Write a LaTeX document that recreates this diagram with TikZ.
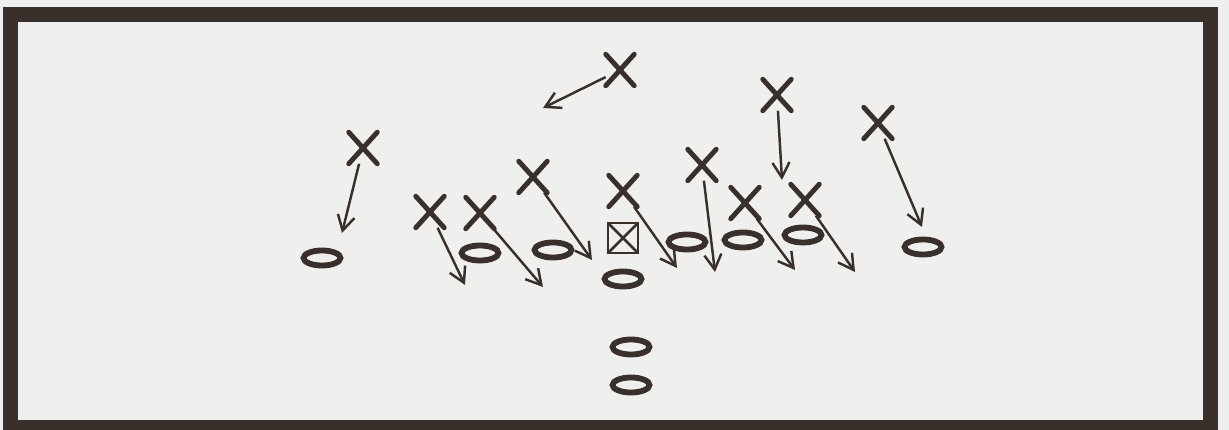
\documentclass[tikz,border=0pt]{standalone}
\usepackage{tikz}
\usetikzlibrary{arrows.meta,positioning,shapes.geometric,shapes.misc}
\definecolor{ink}{HTML}{3A302B}
\definecolor{paper}{HTML}{EFF0EE}
\tikzset{
  defx/.style={cross out, draw=ink, line width=2.8pt, line cap=round, minimum width=0.5cm, minimum height=0.56cm, inner sep=0pt, outer sep=1pt},
  offo/.style={ellipse, draw=ink, line width=3.3pt, minimum width=0.74cm, minimum height=0.3cm, inner sep=0pt},
  snap/.style={draw=ink, line width=1.7pt, minimum size=0.6cm, inner sep=0pt,
    path picture={\draw[ink, line width=1.6pt] (path picture bounding box.north west) -- (path picture bounding box.south east) (path picture bounding box.north east) -- (path picture bounding box.south west);}},
  rush/.style={-{Straight Barb[length=3mm,width=3.4mm]}, line width=1.4pt, draw=ink}
}
\begin{document}
\begin{tikzpicture}
\useasboundingbox (0,0) rectangle (24.58,8.6);
\fill[paper] (0,0) rectangle (24.58,8.6);
\draw[ink, line width=0.3cm] (0.21,0.04) rectangle (24.2,8.31);
\node[defx] (xa) at (12.40,7.20) {};
\node[defx] (xb) at (7.26,5.64) {};
\node[defx] (xc) at (8.60,4.36) {};
\node[defx] (xd) at (9.60,4.34) {};
\node[defx] (xe) at (10.66,5.06) {};
\node[defx] (xf) at (12.46,4.78) {};
\node[defx] (xg) at (14.04,5.30) {};
\node[defx] (xh) at (15.54,6.70) {};
\node[defx] (xi) at (14.90,4.54) {};
\node[defx] (xj) at (16.10,4.60) {};
\node[defx] (xk) at (17.56,6.14) {};
\node[offo] (oa) at (6.44,3.44) {};
\node[offo] (ob) at (9.60,3.54) {};
\node[offo] (oc) at (11.06,3.60) {};
\node[snap] (ctr) at (12.46,3.84) {};
\node[offo] (od) at (12.46,3.02) {};
\node[offo] (oe) at (13.74,3.76) {};
\node[offo] (of) at (14.86,3.80) {};
\node[offo] (og) at (16.06,3.90) {};
\node[offo] (oh) at (18.46,3.66) {};
\node[offo] (oi) at (12.62,1.66) {};
\node[offo] (oj) at (12.62,0.90) {};
\coordinate (ea) at (10.86,6.44); \coordinate (eb) at (6.84,3.94);
\coordinate (ec) at (9.30,2.90); \coordinate (ed) at (10.86,2.86);
\coordinate (ee) at (11.84,3.40); \coordinate (ef) at (13.54,3.24);
\coordinate (eg) at (14.30,3.16); \coordinate (eh) at (15.64,5.00);
\coordinate (ei) at (15.90,3.20); \coordinate (ej) at (17.10,3.16);
\coordinate (ek) at (18.44,4.06);
\draw[rush] (xa)--(ea); \draw[rush] (xb)--(eb); \draw[rush] (xc)--(ec); \draw[rush] (xd)--(ed);
\draw[rush] (xe)--(ee); \draw[rush] (xf)--(ef); \draw[rush] (xg)--(eg); \draw[rush] (xh)--(eh);
\draw[rush] (xi)--(ei); \draw[rush] (xj)--(ej); \draw[rush] (xk)--(ek);
\end{tikzpicture}
\end{document}
